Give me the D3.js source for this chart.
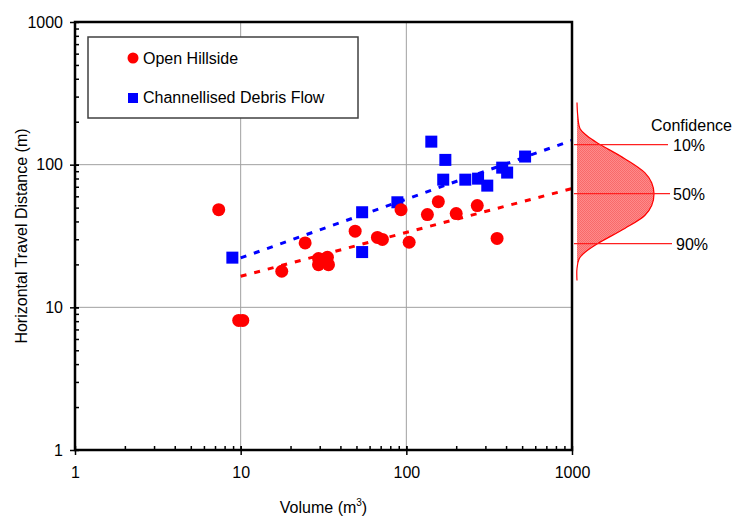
<!DOCTYPE html>
<html>
<head>
<meta charset="utf-8">
<script src="https://cdn.jsdelivr.net/npm/d3@7"></script>
<style>
  body { margin: 0; background: #fff; }
  text { font-family: "Liberation Sans", Arial, sans-serif; fill: #000; }
</style>
</head>
<body>
<svg id="chart" width="736" height="521"></svg>
<script>
// scatter data, [volume m3, travel distance m]
var hillside = [
  [7.37, 48.4], [9.73, 8.1], [10.3, 8.1], [17.7, 17.9], [24.5, 28.3],
  [29.5, 22.0], [33.4, 22.4], [29.5, 19.9], [33.9, 19.9], [49.1, 34.2],
  [66.9, 30.9], [71.7, 29.9], [92.9, 48.4], [104, 28.6], [134, 44.7],
  [156, 55], [200, 45.4], [268, 51.7], [353, 30.4]
];
var channel = [
  [8.91, 22.3], [54.1, 46.4], [54.1, 24.4], [88.3, 54.5], [141.5, 145],
  [172, 108], [167, 78.5], [227, 78.5], [271, 79.8], [308, 71.3],
  [379, 95.3], [406, 88], [521, 114]
];
// dashed fit lines (end points)
var hillsideFit = [[10, 16.5], [1000, 68]];
var channelFit = [[10, 22.2], [1000, 148]];

// confidence bell on the right (value, relative density)
var distValues  = [272.8, 220, 178.5, 159.5, 142.5, 110.2, 87.9, 74.8, 62.7, 51.7, 44.0, 35.7, 28.0, 24.2, 22.0, 18.7, 15.4];
var distDensity = [0, 0.01, 0.04, 0.13, 0.26, 0.62, 0.88, 0.97, 1, 0.97, 0.88, 0.62, 0.27, 0.10, 0.03, 0.0, 0];
var confLabels = ["10%", "50%", "90%"];
var confValues = [138, 62.7, 28];

var decadeTicks = [1, 10, 100, 1000];

var svg = d3.select("#chart");
var x = d3.scaleLog().domain([1, 1000]).range([75, 572]);
var y = d3.scaleLog().domain([1, 1000]).range([450, 22]);

var minorTicks = [];
[1, 10, 100].forEach(function(d) {
    for (var k = 1; k <= 10; k++) minorTicks.push(d * k);
});

// gridlines
svg.append("g").selectAll("line.gx")
    .data([10, 100]).enter().append("line")
    .attr("x1", function(d) { return x(d); })
    .attr("x2", function(d) { return x(d); })
    .attr("y1", y(1)).attr("y2", y(1000))
    .attr("stroke", "#a0a0a0").attr("stroke-width", 1);
svg.append("g").selectAll("line.gy")
    .data([10, 100]).enter().append("line")
    .attr("y1", function(d) { return y(d); })
    .attr("y2", function(d) { return y(d); })
    .attr("x1", x(1)).attr("x2", x(1000))
    .attr("stroke", "#a0a0a0").attr("stroke-width", 1);

// confidence distribution
var defs = svg.append("defs");
var pat = defs.append("pattern").attr("id", "checker")
    .attr("width", 2).attr("height", 2).attr("patternUnits", "userSpaceOnUse");
pat.append("rect").attr("width", 2).attr("height", 2).attr("fill", "#ff8a8a");
pat.append("rect").attr("width", 1).attr("height", 1).attr("fill", "#f86a6a");
pat.append("rect").attr("x", 1).attr("y", 1).attr("width", 1).attr("height", 1).attr("fill", "#f86a6a");

var w = d3.scaleLinear().domain([0, 1]).range([577, 654]);
var bell = distValues.map(function(v, i) { return [w(distDensity[i]), y(v)]; });
var bellLine = d3.line().curve(d3.curveCatmullRom.alpha(0.5));
svg.append("path")
    .attr("d", bellLine(bell) + "Z")
    .attr("fill", "url(#checker)")
    .attr("stroke", "none");
svg.append("path")
    .attr("d", bellLine(bell))
    .attr("fill", "none")
    .attr("stroke", "#ff0000")
    .attr("stroke-width", 1.2);

var confG = svg.append("g");
confG.selectAll("line").data(confValues).enter().append("line")
    .attr("x1", 574).attr("x2", function(d, i) { return 668 + i * 2; })
    .attr("y1", function(d) { return y(d); })
    .attr("y2", function(d) { return y(d); })
    .attr("stroke", "#ff2020").attr("stroke-width", 1.2);
confG.selectAll("text").data(confValues).enter().append("text")
    .attr("x", function(d, i) { return i == 2 ? 676 : 673; })
    .attr("y", function(d) { return y(d) + 6; })
    .attr("font-size", "16px")
    .text(function(d, i) { return confLabels[i]; });
svg.append("text")
    .attr("x", 651).attr("y", 131)
    .attr("font-size", "16px")
    .text("Confidence");

// fit lines
var line = d3.line()
    .x(function(d) { return x(d[0]); })
    .y(function(d) { return y(d[1]); });
svg.append("path").attr("d", line(channelFit))
    .attr("fill", "none").attr("stroke", "#0000ff")
    .attr("stroke-width", 3).attr("stroke-dasharray", "6,8");
svg.append("path").attr("d", line(hillsideFit))
    .attr("fill", "none").attr("stroke", "#ff0000")
    .attr("stroke-width", 3).attr("stroke-dasharray", "6,8");

// points
svg.append("g").selectAll("rect").data(channel).enter().append("rect")
    .attr("x", function(d) { return x(d[0]) - 6; })
    .attr("y", function(d) { return y(d[1]) - 6; })
    .attr("width", 12).attr("height", 12)
    .attr("fill", "#0000ff");
svg.append("g").selectAll("circle").data(hillside).enter().append("circle")
    .attr("cx", function(d) { return x(d[0]); })
    .attr("cy", function(d) { return y(d[1]); })
    .attr("r", 6.5)
    .attr("fill", "#ff0000");

// axes
var yAxisMajor = d3.axisLeft(y).tickValues(decadeTicks).tickSize(5).tickPadding(7)
    .tickFormat(d3.format("d"));
var gy = svg.append("g").attr("transform", "translate(" + x(1) + ",0)").call(yAxisMajor);
gy.select(".domain").remove();
gy.selectAll("text").attr("font-size", "16px").attr("font-family", "Liberation Sans, Arial, sans-serif");
gy.selectAll("line").attr("stroke-width", 1.5);
var gym = svg.append("g").attr("transform", "translate(" + x(1) + ",0)")
    .call(d3.axisLeft(y).tickValues(minorTicks).tickSize(-4).tickFormat(""));
gym.select(".domain").remove();
gym.selectAll("line").attr("stroke-width", 1.5);

var xAxisMajor = d3.axisBottom(x).tickValues(decadeTicks).tickSize(5).tickPadding(12)
    .tickFormat(d3.format("d"));
var gx = svg.append("g").attr("transform", "translate(0," + y(1) + ")").call(xAxisMajor);
gx.select(".domain").remove();
gx.selectAll("text").attr("font-size", "16px").attr("font-family", "Liberation Sans, Arial, sans-serif");
gx.selectAll("line").attr("stroke-width", 1.5);
var gxm = svg.append("g").attr("transform", "translate(0," + y(1) + ")")
    .call(d3.axisBottom(x).tickValues(minorTicks).tickSize(-4).tickFormat(""));
gxm.select(".domain").remove();
gxm.selectAll("line").attr("stroke-width", 1.5);

// plot frame
svg.append("rect")
    .attr("x", x(1)).attr("y", y(1000))
    .attr("width", x(1000) - x(1)).attr("height", y(1) - y(1000))
    .attr("fill", "none").attr("stroke", "#000").attr("stroke-width", 2.5);

// axis titles
var xt = svg.append("text")
    .attr("x", (x(1) + x(1000)) / 2).attr("y", 513)
    .attr("text-anchor", "middle").attr("font-size", "16px");
xt.append("tspan").text("Volume (m");
xt.append("tspan").attr("font-size", "10px").attr("dy", -7).text("3");
xt.append("tspan").attr("dy", 7).text(")");

svg.append("text")
    .attr("transform", "translate(27," + ((y(1) + y(1000)) / 2) + ") rotate(-90)")
    .attr("text-anchor", "middle").attr("font-size", "16px")
    .text("Horizontal Travel Distance (m)");

// legend
var lg = svg.append("g");
lg.append("rect")
    .attr("x", 88).attr("y", 37).attr("width", 270).attr("height", 81)
    .attr("fill", "#fff").attr("stroke", "#404040").attr("stroke-width", 1.5);
lg.append("circle").attr("cx", 133).attr("cy", 58).attr("r", 5.5).attr("fill", "#ff0000");
lg.append("rect").attr("x", 128).attr("y", 93).attr("width", 10).attr("height", 10).attr("fill", "#0000ff");
lg.append("text").attr("x", 143).attr("y", 64).attr("font-size", "16px").text("Open Hillside");
lg.append("text").attr("x", 143).attr("y", 103).attr("font-size", "16px").text("Channellised Debris Flow");
</script>
</body>
</html>
